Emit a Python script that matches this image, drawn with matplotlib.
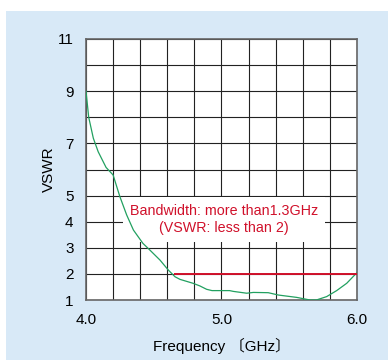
import numpy as np
import matplotlib
matplotlib.use("Agg")
import matplotlib.pyplot as plt
from matplotlib.patches import Rectangle

plt.rcParams['font.family'] = ['Liberation Sans', 'Noto Sans CJK JP', 'DejaVu Sans']

# 測定データ (周波数 GHz, VSWR)
freq = [4.00, 4.02, 4.054, 4.09, 4.148, 4.20, 4.25, 4.30, 4.35, 4.42, 4.47,
        4.546, 4.607, 4.657, 4.694, 4.79, 4.84, 4.89, 4.93, 5.06, 5.087,
        5.186, 5.235, 5.345, 5.42, 5.555, 5.653, 5.70, 5.776, 5.85, 5.924, 6.00]
vswr = [9.0, 8.0, 7.2, 6.68, 6.08, 5.79, 4.96, 4.26, 3.68, 3.17, 2.92,
        2.53, 2.15, 1.89, 1.79, 1.64, 1.54, 1.41, 1.36, 1.36, 1.33,
        1.26, 1.29, 1.28, 1.19, 1.10, 1.0, 1.0, 1.13, 1.36, 1.64, 2.05]

# 帯域 (VSWR < 2)
band_start = 4.65
band_end = 6.0
band_level = 2.0

x_ticks = [4.0, 5.0, 6.0]
x_grid = np.arange(4.0, 6.01, 0.2)
y_ticks = [1, 2, 3, 4, 5, 7, 9, 11]
y_grid = [6, 8, 10]

fig = plt.figure(figsize=(3.88, 3.62), dpi=100)
fig.patch.set_facecolor('white')
bg = Rectangle((6 / 388, 1 - 360 / 362), 1 - 6 / 388, 349 / 362,
               transform=fig.transFigure, facecolor='#d8e9f7',
               edgecolor='none', zorder=-10)
fig.add_artist(bg)

ax = fig.add_axes([86 / 388, 1 - 300 / 362, 271 / 388, 261 / 362])
ax.set_zorder(1)
ax.set_facecolor('white')

ax.plot(freq, vswr, color='#22a060', lw=0.9, zorder=4)
ax.hlines(band_level, band_start, band_end, color='#d0102a', lw=1.4, zorder=5)

ax.set_xlim(4.0, 6.0)
ax.set_ylim(1, 11)
ax.set_xticks(x_ticks)
ax.set_xticklabels([f"{v:.1f}" for v in x_ticks])
ax.set_xticks(x_grid, minor=True)
ax.set_yticks(y_ticks)
ax.set_yticks(y_grid, minor=True)
ax.grid(True, which='both', color='#222222', lw=0.8)
ax.set_axisbelow(True)
ax.tick_params(which='both', length=0, labelsize=11)
ax.tick_params(axis='y', pad=9)
ax.tick_params(axis='x', pad=9)
for s in ax.spines.values():
    s.set_color('#666666')
    s.set_linewidth(1.2)

ax.set_xlabel('Frequency 〔GHz〕', fontsize=11, labelpad=8)
ax.set_ylabel('VSWR', fontsize=11, labelpad=1)

ax.text(5.018, 4.07, 'Bandwidth: more than1.3GHz\n(VSWR: less than 2)',
        ha='center', va='center', color='#d0102a', fontsize=10.3, linespacing=1.26,
        bbox=dict(boxstyle='square,pad=0.5', facecolor='white', edgecolor='none'),
        zorder=3)

fig.savefig('out.png', dpi=100, facecolor=fig.get_facecolor())
